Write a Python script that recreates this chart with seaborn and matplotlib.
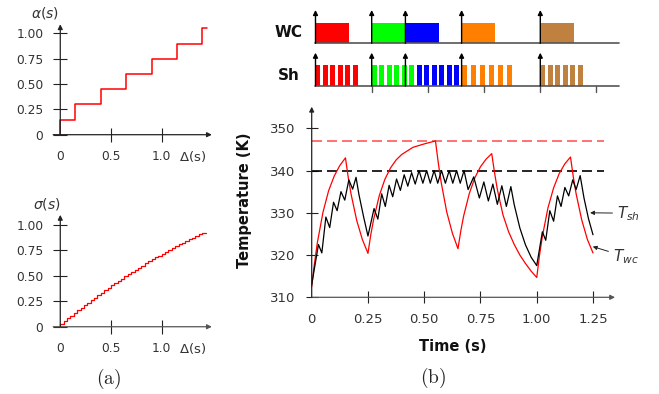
import numpy as np
import pandas as pd
import seaborn as sns
import matplotlib
matplotlib.use('Agg')
import matplotlib.pyplot as plt

# ---- data ----
# (a) alpha(s): jump positions and levels
alpha_jumps = [0, 0.15, 0.4, 0.65, 0.9, 1.15, 1.4]
alpha_levels = [0.15, 0.30, 0.45, 0.60, 0.75, 0.90, 1.05]
alpha_end = 1.45

# (a) sigma(s): fine staircase, one level per 1/30 s
sigma_step = 1 / 30
sigma_levels = [0.028, 0.055, 0.082, 0.108, 0.135, 0.161, 0.187, 0.212, 0.237, 0.262,
                0.287, 0.311, 0.335, 0.359, 0.383, 0.406, 0.429, 0.451, 0.474, 0.496,
                0.517, 0.539, 0.560, 0.581, 0.601, 0.622, 0.642, 0.662, 0.681, 0.700,
                0.719, 0.737, 0.756, 0.774, 0.791, 0.809, 0.826, 0.843, 0.859, 0.876,
                0.892, 0.907, 0.923]

# (b) schedule: task colours, WC blocks, Sh pulse trains
task_colors = ['#ff0000', '#00ff00', '#0000ff', '#ff8000', '#bf8040']
release_times = [0, 0.25, 0.4, 0.65, 1.0]
wc_start = [0, 0.25, 0.40, 0.65, 1.00]
wc_end = [0.15, 0.40, 0.55, 0.80, 1.15]
sh_start = [0, 0.25, 0.45, 0.65, 1.00]
sh_period = [1 / 30, 1 / 30, 1 / 30, 0.04, 1 / 30]
sh_count = [6, 6, 6, 6, 6]
sh_width = 0.022

# (b) temperatures
t_wc = [0, 0.01, 0.025, 0.05, 0.075, 0.1, 0.125, 0.15,
        0.1625, 0.175, 0.2, 0.225, 0.25,
        0.2625, 0.275, 0.3, 0.325, 0.35, 0.375, 0.4, 0.45, 0.5, 0.55,
        0.5625, 0.575, 0.6, 0.625, 0.65,
        0.6625, 0.675, 0.7, 0.725, 0.75, 0.775, 0.8,
        0.8125, 0.825, 0.85, 0.875, 0.9, 0.925, 0.95, 0.975, 1.0,
        1.0125, 1.025, 1.05, 1.075, 1.1, 1.125, 1.15,
        1.1625, 1.175, 1.2, 1.225, 1.25]
T_wc = [312.5, 317.1, 322.9, 330.1, 335.2, 338.7, 341.2, 343.0,
        338.3, 334.4, 328.2, 323.7, 320.4,
        324.8, 328.4, 334.0, 337.9, 340.6, 342.5, 343.8, 345.5, 346.3, 347.0,
        341.8, 337.3, 330.2, 325.2, 321.5,
        325.7, 329.2, 334.5, 338.3, 340.9, 342.7, 344.0,
        339.5, 335.5, 329.5, 325.5, 322.5, 320.0, 318.0, 316.2, 314.7,
        320.0, 324.4, 331.2, 335.9, 339.3, 341.6, 343.2,
        338.5, 334.5, 328.3, 323.7, 320.5]

t_sh = [0, 0.03, 0.045, 0.063, 0.08, 0.097, 0.113, 0.13, 0.147, 0.165, 0.182, 0.197,
        0.21, 0.23, 0.25,
        0.277, 0.294, 0.311, 0.327, 0.344, 0.36, 0.377, 0.394, 0.411, 0.427, 0.444,
        0.46, 0.477, 0.494, 0.511, 0.527, 0.544, 0.56, 0.577, 0.594, 0.611, 0.627,
        0.644, 0.66, 0.677,
        0.695, 0.72, 0.745, 0.765, 0.785, 0.805, 0.825, 0.845, 0.865, 0.885,
        0.9, 0.925, 0.95, 0.975, 1.0,
        1.025, 1.04, 1.058, 1.075, 1.092, 1.108, 1.125, 1.142, 1.16, 1.175, 1.193,
        1.21, 1.23, 1.25]
T_sh = [313, 322.5, 320.5, 329, 326.5, 332.5, 330.5, 335, 333, 337.8, 335.6, 338.4,
        334.3, 329.2, 324.5,
        331, 328.5, 334.5, 331.5, 336.5, 333.8, 338, 335.3, 339, 336.3, 339.5,
        336.8, 340, 337, 340, 337, 340, 337, 340, 337, 340, 337,
        340, 337, 340,
        335.5, 338.5, 333.5, 337.3, 332.8, 336.8, 332, 336.4, 331.5, 336.2,
        331.9, 326.4, 322.4, 319.5, 317.5,
        325.5, 323.5, 330.5, 328, 334, 331.5, 336, 334, 337.8, 335.5, 338.8,
        333.5, 328.6, 324.8]

T_max_wc = 347
T_max_sh = 340
t_limit = 1.3

# ---- style ----
sns.set_theme(style='white')
plt.rcParams['font.family'] = ['DejaVu Sans']
plt.rcParams['axes.unicode_minus'] = False

W, H = 659, 394
fig = plt.figure(figsize=(W / 100, H / 100), dpi=100)


def px_axes(x0, y0, x1, y1):
    return fig.add_axes([x0 / W, 1 - y1 / H, (x1 - x0) / W, (y1 - y0) / H])


def arrow(ax, start, end, color='#222222', lw=0.9, ms=7):
    ax.annotate('', xy=end, xytext=start, annotation_clip=False,
                arrowprops=dict(arrowstyle='-|>', color=color, lw=lw,
                                mutation_scale=ms, shrinkA=0, shrinkB=0))


def cross_axes(ax, x0, y0, tick_len, xpad, ypad, fsize):
    for s in ['top', 'right']:
        ax.spines[s].set_visible(False)
    ax.spines['left'].set_position(('data', x0))
    ax.spines['bottom'].set_position(('data', y0))
    ax.spines['left'].set_visible(False)
    ax.spines['bottom'].set_visible(False)
    ax.set_facecolor('none')
    ax.tick_params(direction='inout', length=tick_len, width=0.8, color='#222222',
                   labelcolor='#333333', labelsize=fsize, left=True, bottom=True)
    ax.tick_params(axis='x', pad=xpad)
    ax.tick_params(axis='y', pad=ypad)


# ---- (a) alpha(s) ----
ax_a = px_axes(40, 20, 215, 150)
ax_a.set_xlim(-0.200, 1.526)
ax_a.set_ylim(-0.151, 1.132)
a_df = pd.DataFrame({'x': [0] + alpha_jumps + [alpha_end],
                     'y': [0] + alpha_levels + [alpha_levels[-1]]})
sns.lineplot(data=a_df, x='x', y='y', ax=ax_a, sort=False, estimator=None,
             drawstyle='steps-post', color='#ff0000', lw=1.1)
cross_axes(ax_a, 0, 0, 9.6, 6, 7.4, 8.8)
ax_a.set_xticks([0, 0.5, 1.0], ['0', '0.5', '1.0'])
ax_a.set_yticks([0, 0.25, 0.5, 0.75, 1.0], ['0', '0.25', '0.50', '0.75', '1.00'])
ax_a.xaxis.get_major_ticks()[0].tick1line.set_visible(False)
ax_a.set_xlabel('')
ax_a.set_ylabel('')
arrow(ax_a, (-0.07, 0), (1.495, 0))
arrow(ax_a, (0, 0), (0, 1.09))
ax_a.text(-0.15, 1.2, r'$\alpha(s)$', ha='center', va='center', fontsize=10,
          color='#333333', clip_on=False)
ax_a.text(1.3, -0.217, r'$\Delta$(s)', ha='center', va='center', fontsize=9.5,
          color='#333333', clip_on=False)

# ---- (a) sigma(s) ----
ax_s = px_axes(40, 212, 215, 342)
ax_s.set_xlim(-0.200, 1.526)
ax_s.set_ylim(-0.150, 1.128)
edges = list(np.arange(len(sigma_levels) + 1) * sigma_step)
s_df = pd.DataFrame({'x': [0] + edges,
                     'y': [0] + sigma_levels + [sigma_levels[-1]]})
sns.lineplot(data=s_df, x='x', y='y', ax=ax_s, sort=False, estimator=None,
             drawstyle='steps-post', color='#ff0000', lw=0.9)
cross_axes(ax_s, 0, 0, 9.6, 6, 7.4, 8.8)
ax_s.set_xticks([0, 0.5, 1.0], ['0', '0.5', '1.0'])
ax_s.set_yticks([0, 0.25, 0.5, 0.75, 1.0], ['0', '0.25', '0.50', '0.75', '1.00'])
ax_s.xaxis.get_major_ticks()[0].tick1line.set_visible(False)
ax_s.set_xlabel('')
ax_s.set_ylabel('')
arrow(ax_s, (-0.07, 0), (1.495, 0), color='#555555')
arrow(ax_s, (0, 0), (0, 1.1))
ax_s.text(-0.13, 1.21, r'$\sigma(s)$', ha='center', va='center', fontsize=10,
          color='#333333', clip_on=False)
ax_s.text(1.3, -0.21, r'$\Delta$(s)', ha='center', va='center', fontsize=9.5,
          color='#333333', clip_on=False)

# ---- (b) schedule rows ----
ax_t = px_axes(255, 0, 625, 100)
ax_t.set_xlim(-0.2691, 1.3768)
ax_t.set_ylim(100, 0)
ax_t.axis('off')
wc_base, wc_top, sh_base, sh_top = 43.3, 23.3, 86.0, 65.0
for c, s, e in zip(task_colors, wc_start, wc_end):
    ax_t.bar(s, wc_top - wc_base, width=e - s, bottom=wc_base, align='edge',
             color=c, edgecolor='none')
for c, s, p, n in zip(task_colors, sh_start, sh_period, sh_count):
    starts = [s + k * p for k in range(n)]
    ax_t.bar(starts, sh_top - sh_base, width=sh_width, bottom=sh_base,
             align='edge', color=c, edgecolor='none')
for yb in [wc_base, sh_base]:
    ax_t.plot([0, 1.35], [yb, yb], color='#555555', lw=1.2)
for tk in [0.25, 0.5, 0.75, 1.0, 1.25]:
    ax_t.plot([tk, tk], [sh_base, sh_base + 6], color='#555555', lw=1.0)
for r in release_times:
    arrow(ax_t, (r, wc_base), (r, 10), color='black', lw=1.0, ms=7)
    arrow(ax_t, (r, sh_base), (r, 52.7), color='black', lw=1.0, ms=7)
ax_t.text(-0.118, 32.5, 'WC', ha='center', va='center', fontsize=11,
          fontweight='bold', color='#111111')
ax_t.text(-0.118, 75.5, 'Sh', ha='center', va='center', fontsize=11,
          fontweight='bold', color='#111111')

# ---- (b) temperatures ----
ax_b = px_axes(300, 105, 620, 305)
ax_b.set_xlim(-0.052, 1.370)
ax_b.set_ylim(308.18, 355.51)
ax_b.plot([0, t_limit], [T_max_wc, T_max_wc], color='#ff5a5a', lw=1.2,
          ls=(0, (6, 3)))
ax_b.plot([0, t_limit], [T_max_sh, T_max_sh], color='black', lw=1.2,
          ls=(0, (6, 3)))
sns.lineplot(x=t_wc, y=T_wc, ax=ax_b, sort=False, estimator=None,
             color='#ff0000', lw=0.9)
sns.lineplot(x=t_sh, y=T_sh, ax=ax_b, sort=False, estimator=None,
             color='black', lw=0.9)
cross_axes(ax_b, 0, 310, 9.1, 6.4, 7.5, 9.5)
ax_b.set_xticks([0, 0.25, 0.5, 0.75, 1.0, 1.25],
                ['0', '0.25', '0.50', '0.75', '1.00', '1.25'])
ax_b.set_yticks([310, 320, 330, 340, 350])
ax_b.xaxis.get_major_ticks()[0].tick1line.set_visible(False)
ax_b.set_xlabel('')
ax_b.set_ylabel('')
arrow(ax_b, (0, 310), (1.348, 310), color='#555555')
arrow(ax_b, (0, 310), (0, 355.1))
ax_b.annotate(r'$T_{sh}$', xy=(1.237, 330.0), xytext=(1.357, 329.9),
              ha='left', va='center', fontsize=11, color='#333333',
              annotation_clip=False,
              arrowprops=dict(arrowstyle='-|>', lw=0.7, color='#222222',
                              mutation_scale=6, shrinkA=1, shrinkB=0))
ax_b.annotate(r'$T_{wc}$', xy=(1.249, 322.0), xytext=(1.339, 319.6),
              ha='left', va='center', fontsize=11, color='#333333',
              annotation_clip=False,
              arrowprops=dict(arrowstyle='-|>', lw=0.7, color='#222222',
                              mutation_scale=6, shrinkA=1, shrinkB=0))

fig.text(245 / W, 1 - 200 / H, 'Temperature (K)', rotation=90, ha='center',
         va='center', fontsize=10.5, fontweight='bold', color='#111111')
fig.text(453 / W, 1 - 346.7 / H, 'Time (s)', ha='center', va='center',
         fontsize=10.5, fontweight='bold', color='#111111')

fig.text(108.3 / W, 1 - 379.3 / H, r'$\mathrm{(a)}$', math_fontfamily='cm',
         fontsize=14, ha='center', va='center')
fig.text(433.3 / W, 1 - 377.7 / H, r'$\mathrm{(b)}$', math_fontfamily='cm',
         fontsize=14, ha='center', va='center')

fig.savefig('out.png', dpi=100)
